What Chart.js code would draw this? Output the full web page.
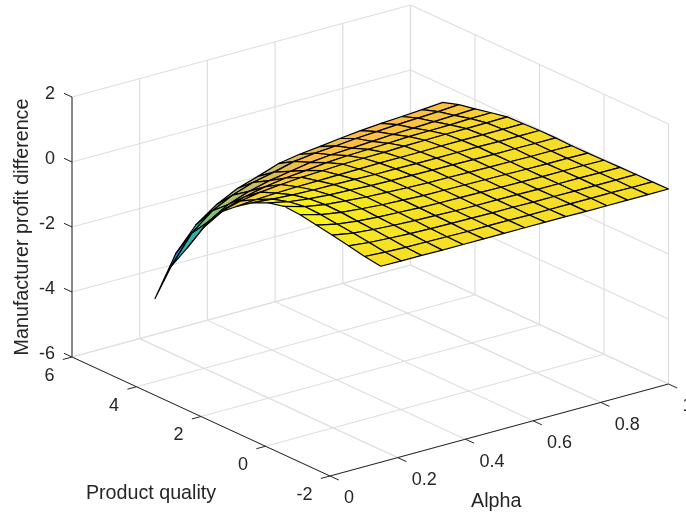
<!DOCTYPE html>
<html><head><meta charset="utf-8">
<style>html,body{margin:0;padding:0;background:#fff;overflow:hidden}canvas{display:block}</style>
<script src="https://cdn.jsdelivr.net/npm/chart.js@4"></script>
</head><body><canvas id="c" width="686" height="518"></canvas>
<script>
// Surface sample positions
const alphaValues = [0.15,0.211,0.271,0.332,0.393,0.454,0.514,0.575,0.636,0.696,0.757,0.818,0.879,0.939,1];
const qualityValues = [-2,-1.5,-1,-0.5,0,0.5,1,1.5,2,2.5,3,3.5,4,4.5,5];
// Manufacturer profit difference; one row per alpha value
const z00 = [0.03,0.10,0.20,0.30,0.38,0.47,0.50,0.38,0.15,-0.20,-0.60,-1.30,-2.15,-2.95,-4.17];
const z01 = [0.02,0.06,0.13,0.19,0.24,0.30,0.32,0.24,0.09,-0.15,-0.43,-0.92,-1.53,-2.10,-2.96];
const z02 = [0.02,0.04,0.09,0.13,0.16,0.20,0.21,0.16,0.05,-0.12,-0.32,-0.70,-1.16,-1.59,-2.24];
const z03 = [0.01,0.03,0.06,0.09,0.11,0.14,0.15,0.11,0.03,-0.10,-0.26,-0.56,-0.93,-1.27,-1.79];
const z04 = [0.01,0.02,0.04,0.06,0.08,0.09,0.10,0.08,0.02,-0.09,-0.21,-0.46,-0.77,-1.05,-1.47];
const z05 = [0.01,0.01,0.03,0.04,0.05,0.06,0.07,0.05,0.01,-0.08,-0.18,-0.40,-0.66,-0.91,-1.27];
const z06 = [0.01,0.01,0.02,0.02,0.03,0.03,0.04,0.03,-0.01,-0.07,-0.15,-0.33,-0.55,-0.75,-1.05];
const z07 = [0.01,0.01,0.01,0.01,0.02,0.02,0.02,0.02,-0.01,-0.06,-0.14,-0.29,-0.49,-0.67,-0.94];
const z08 = [0.01,0.00,0.01,0.01,0.01,0.01,0.01,0.01,-0.02,-0.06,-0.13,-0.27,-0.46,-0.62,-0.87];
const z09 = [0.01,0.00,0.00,0.00,0.00,0.00,0.00,0.00,-0.02,-0.06,-0.11,-0.25,-0.42,-0.56,-0.79];
const z10 = [0.00,0.00,0.00,-0.01,-0.01,-0.01,-0.01,-0.01,-0.02,-0.05,-0.10,-0.22,-0.38,-0.52,-0.72];
const z11 = [0.00,0.00,-0.01,-0.01,-0.02,-0.02,-0.02,-0.02,-0.02,-0.05,-0.09,-0.21,-0.36,-0.48,-0.67];
const z12 = [0.00,0.00,-0.01,-0.01,-0.02,-0.03,-0.03,-0.02,-0.03,-0.05,-0.09,-0.20,-0.33,-0.45,-0.63];
const z13 = [0.00,-0.01,-0.01,-0.02,-0.02,-0.03,-0.03,-0.03,-0.03,-0.05,-0.08,-0.18,-0.31,-0.42,-0.59];
const z14 = [0.00,-0.01,-0.01,-0.02,-0.03,-0.04,-0.04,-0.03,-0.03,-0.05,-0.07,-0.17,-0.28,-0.38,-0.54];
const zRows = [z00,z01,z02,z03,z04,z05,z06,z07,z08,z09,z10,z11,z12,z13,z14];

// Tick values
const alphaTicks = [0,0.2,0.4,0.6,0.8,1];
const qualityTicks = [-2,0,2,4,6];
const profitTicks = [-6,-4,-2,0,2];
const alphaTitle = 'Alpha', qualityTitle = 'Product quality', profitTitle = 'Manufacturer profit difference';

// Orthographic view of the 3-D axes box
const ORIGIN = {x:330, y:476};
const A_VEC = {x:338.5, y:-92};     // alpha 0..1
const Q_VEC = {x:-32.25, y:-14.875}; // per quality unit
const Z_VEC = -32.5;                 // per profit unit
function proj(a,q,z){
  return {x:ORIGIN.x + A_VEC.x*a + Q_VEC.x*(q+2),
          y:ORIGIN.y + A_VEC.y*a + Q_VEC.y*(q+2) + Z_VEC*(z+6)};
}
const AMIN=0,AMAX=1,QMIN=-2,QMAX=6,ZMIN=-6,ZMAX=2;

// colour ramp
const ramp = [
 [-4.2,[62,38,168]],[-3.6,[60,90,240]],[-3.0,[25,130,228]],[-2.6,[20,150,210]],[-2.2,[30,172,175]],
 [-1.8,[70,185,140]],[-1.5,[125,190,110]],[-1.0,[190,188,90]],[-0.75,[222,186,75]],[-0.55,[250,187,60]],[-0.45,[254,187,58]],
 [-0.25,[250,200,45]],[-0.1,[246,212,32]],[0.02,[245,222,25]],[0.2,[246,232,20]],[0.5,[252,250,10]]];
function rampColor(z){
  if(z<=ramp[0][0])return ramp[0][1];
  for(let i=1;i<ramp.length;i++){
    if(z<=ramp[i][0]){
      const t=(z-ramp[i-1][0])/(ramp[i][0]-ramp[i-1][0]);
      return ramp[i-1][1].map((v,k)=>Math.round(v+(ramp[i][1][k]-v)*t));
    }
  }
  return ramp[ramp.length-1][1];
}
function colorOf(z){return `rgba(${rampColor(z).join(',')},0.95)`;}

const datasets=[];
function seg(pts,color,width){
  datasets.push({data:pts,showLine:true,fill:false,borderColor:color,borderWidth:width,pointRadius:0,tension:0,clip:false,borderCapStyle:'butt'});
}
// surface: nearest cells first in the list, so they paint last
for(let i=0;i<alphaValues.length-1;i++){
  for(let j=0;j<qualityValues.length-1;j++){
    const corners=[[i,j],[i+1,j],[i+1,j+1],[i,j+1],[i,j]];
    const pts=corners.map(([m,n])=>proj(alphaValues[m],qualityValues[n],zRows[m][n]));
    datasets.push({data:pts,showLine:true,fill:'shape',backgroundColor:colorOf(zRows[i][j]),
      borderColor:'#000',borderWidth:1.2,pointRadius:0,tension:0,clip:false,borderJoinStyle:'round'});
  }
}
// axis rulers and tick marks
const INK='#262626', GRID='#dedede';
seg([proj(AMIN,QMAX,ZMIN),proj(AMIN,QMIN,ZMIN)],INK,1);
seg([proj(AMIN,QMIN,ZMIN),proj(AMAX,QMIN,ZMIN)],INK,1);
seg([proj(AMIN,QMAX,ZMIN),proj(AMIN,QMAX,ZMAX)],INK,1);
alphaTicks.forEach(a=>seg([proj(a,QMIN,ZMIN),proj(a,QMIN-0.27,ZMIN)],INK,1));
qualityTicks.forEach(q=>seg([proj(AMIN,q,ZMIN),proj(AMIN-0.027,q,ZMIN)],INK,1));
profitTicks.forEach(z=>seg([proj(AMIN,QMAX,z),proj(AMIN,QMAX+0.25,z)],INK,1));
// grid on floor and back walls
alphaTicks.forEach(a=>{
  seg([proj(a,QMIN,ZMIN),proj(a,QMAX,ZMIN)],GRID,1.2);
  seg([proj(a,QMAX,ZMIN),proj(a,QMAX,ZMAX)],GRID,1.2);
});
qualityTicks.forEach(q=>{
  seg([proj(AMIN,q,ZMIN),proj(AMAX,q,ZMIN)],GRID,1.2);
  seg([proj(AMAX,q,ZMIN),proj(AMAX,q,ZMAX)],GRID,1.2);
});
profitTicks.forEach(z=>{
  seg([proj(AMIN,QMAX,z),proj(AMAX,QMAX,z)],GRID,1.2);
  seg([proj(AMAX,QMAX,z),proj(AMAX,QMIN,z)],GRID,1.2);
});

const FONT='"Liberation Sans", Arial, sans-serif';
const labelsPlugin={id:'axisText',afterDraw(chart){
  const {ctx,scales:{x:sx,y:sy}}=chart;
  const px=p=>({x:sx.getPixelForValue(p.x),y:sy.getPixelForValue(p.y)});
  ctx.save();
  ctx.fillStyle=INK;ctx.textBaseline='middle';
  ctx.font='18px '+FONT;
  ctx.textAlign='right';
  profitTicks.forEach(z=>{const p=px(proj(AMIN,QMAX,z));ctx.fillText(String(z),p.x-17,p.y-3);});
  qualityTicks.forEach(q=>{const p=px(proj(AMIN,q,ZMIN));ctx.fillText(String(q),p.x-17.5,p.y+19);});
  ctx.textAlign='left';
  alphaTicks.forEach(a=>{const p=px(proj(a,QMIN,ZMIN));ctx.fillText(String(a),p.x+14,p.y+22.5);});
  ctx.font='19.7px '+FONT;
  ctx.textAlign='center';
  const qa=px(proj(AMIN,QMAX,ZMIN)),qb=px(proj(AMIN,QMIN,ZMIN));
  ctx.fillText(qualityTitle,(qa.x+qb.x)/2-50,(qa.y+qb.y)/2+77);
  const aa=px(proj(AMIN,QMIN,ZMIN)),ab=px(proj(AMAX,QMIN,ZMIN));
  ctx.fillText(alphaTitle,(aa.x+ab.x)/2-3,(aa.y+ab.y)/2+71.5);
  const ztop=px(proj(AMIN,QMAX,ZMAX)),zbot=px(proj(AMIN,QMAX,ZMIN));
  ctx.translate(zbot.x-44,(ztop.y+zbot.y)/2);
  ctx.rotate(-Math.PI/2);
  ctx.textBaseline='alphabetic';
  ctx.fillText(profitTitle,0,0);
  ctx.restore();
}};
const whiteBg={id:'whiteBg',beforeDraw(chart){const c=chart.ctx;c.save();c.fillStyle='#fff';c.fillRect(0,0,chart.width,chart.height);c.restore();}};

new Chart(document.getElementById('c'),{
  type:'scatter',
  data:{datasets},
  options:{
    responsive:false,animation:false,devicePixelRatio:1,
    layout:{padding:0},
    scales:{
      x:{type:'linear',min:0,max:686,display:false},
      y:{type:'linear',min:0,max:518,reverse:true,display:false}
    },
    plugins:{legend:{display:false},tooltip:{enabled:false},title:{display:false}}
  },
  plugins:[whiteBg,labelsPlugin]
});
</script></body></html>
